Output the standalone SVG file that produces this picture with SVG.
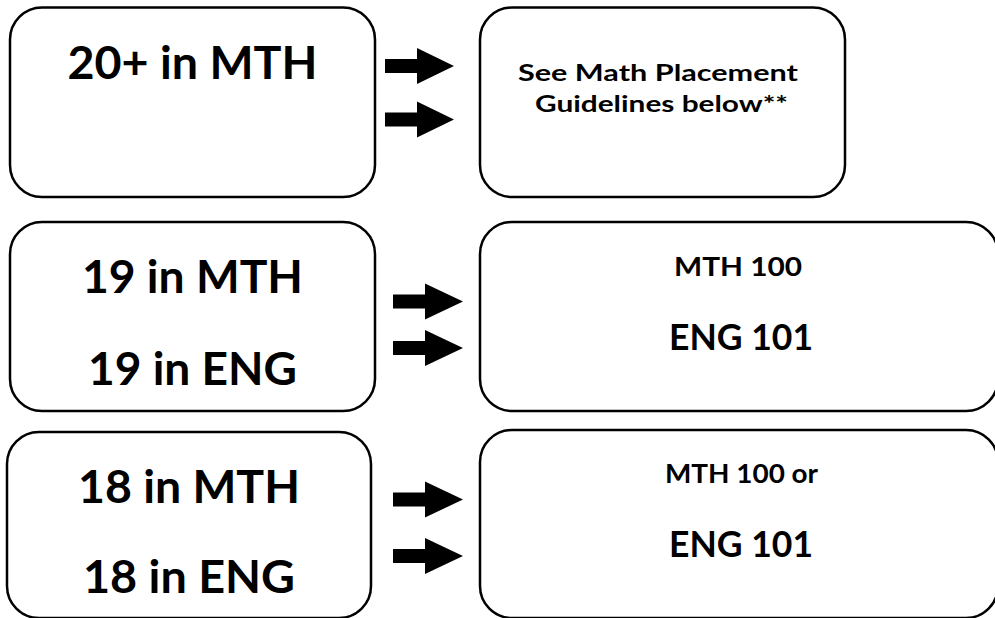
<svg xmlns="http://www.w3.org/2000/svg" xmlns:xlink="http://www.w3.org/1999/xlink" width="995" height="618" viewBox="0 0 995 618">
<style>
.box{fill:#fff;stroke:#000;stroke-width:2.5}
.t{font-family:Lato,"Liberation Sans",sans-serif;font-weight:bold;fill:#000;text-anchor:middle}
.big{font-size:45px}
.mid{font-size:36px}
.sm{font-size:26px}
.xs{font-size:22px}
.arr{fill:#000}
</style>
<defs>
<path id="arrow" d="M0,-7 H32 V-18 L69,0 L32,18 V7 H0 Z"/>
<path id="arrow2" d="M0,-7 H32 V-18 L70,0 L32,18 V7 H0 Z"/>
</defs>
<rect width="995" height="618" fill="#fff"/>
<g id="node-20mth">
<rect class="box" x="10" y="7.5" width="365" height="189.5" rx="32"/>
<text class="t big" x="192.5" y="79" textLength="250" lengthAdjust="spacingAndGlyphs">20+ in MTH</text>
</g>
<g id="node-see-math">
<rect class="box" x="480" y="7.5" width="365" height="189.5" rx="32"/>
<text class="t xs" x="658" y="81" textLength="280" lengthAdjust="spacingAndGlyphs">See Math Placement</text>
<text class="t xs" x="661.5" y="112" textLength="253" lengthAdjust="spacingAndGlyphs">Guidelines below**</text>
</g>
<g id="node-19">
<rect class="box" x="10" y="222" width="365" height="189" rx="32"/>
<text class="t big" x="192.5" y="293" textLength="221" lengthAdjust="spacingAndGlyphs">19 in MTH</text>
<text class="t big" x="192.5" y="385" textLength="209" lengthAdjust="spacingAndGlyphs">19 in ENG</text>
</g>
<g id="node-mth100-eng101">
<rect class="box" x="480" y="222" width="518" height="189" rx="32"/>
<text class="t sm" x="738" y="276" textLength="128" lengthAdjust="spacingAndGlyphs">MTH 100</text>
<text class="t mid" x="741" y="350" textLength="144" lengthAdjust="spacingAndGlyphs">ENG 101</text>
</g>
<g id="node-18">
<rect class="box" x="7" y="432" width="364" height="186" rx="32"/>
<text class="t big" x="189" y="503" textLength="222" lengthAdjust="spacingAndGlyphs">18 in MTH</text>
<text class="t big" x="189" y="593" textLength="212" lengthAdjust="spacingAndGlyphs">18 in ENG</text>
</g>
<g id="node-mth100or-eng101">
<rect class="box" x="480" y="430" width="518" height="188" rx="32"/>
<text class="t sm" x="741.5" y="483" textLength="153" lengthAdjust="spacingAndGlyphs">MTH 100 or</text>
<text class="t mid" x="741" y="557" textLength="144" lengthAdjust="spacingAndGlyphs">ENG 101</text>
</g>
<g id="connectors" class="arr">
<use href="#arrow" xlink:href="#arrow" transform="translate(385,66)"/>
<use href="#arrow" xlink:href="#arrow" transform="translate(385,119.5)"/>
<use href="#arrow2" xlink:href="#arrow2" transform="translate(393,301.5)"/>
<use href="#arrow2" xlink:href="#arrow2" transform="translate(393,348)"/>
<use href="#arrow2" xlink:href="#arrow2" transform="translate(393,499.5)"/>
<use href="#arrow2" xlink:href="#arrow2" transform="translate(393,556)"/>
</g>
</svg>
